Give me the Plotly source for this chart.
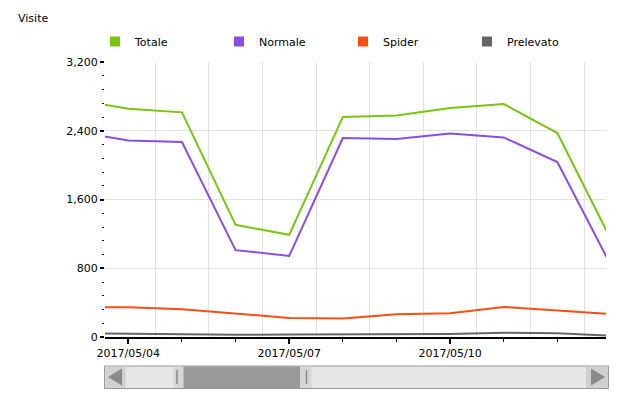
import plotly.graph_objects as go

# ---- data ----
dates = ["2017-05-03", "2017-05-04", "2017-05-05", "2017-05-06", "2017-05-07", "2017-05-08",
         "2017-05-09", "2017-05-10", "2017-05-11", "2017-05-12", "2017-05-13"]
totale = [2760, 2657, 2614, 1305, 1189, 2561, 2578, 2664, 2711, 2373, 1132]
normale = [2395, 2287, 2268, 1011, 944, 2315, 2303, 2369, 2322, 2035, 832]
spider = [350, 345, 324, 277, 222, 214, 265, 277, 350, 307, 268]
prelevato = [45, 40, 32, 25, 30, 32, 30, 35, 50, 45, 15]

series_names = ["Totale", "Normale", "Spider", "Prelevato"]
series_colors = ["#78c612", "#8a4de6", "#fb4f14", "#666666"]
series_values = [totale, normale, spider, prelevato]

x_tick_vals = ["2017-05-04", "2017-05-07", "2017-05-10"]
x_tick_text = ["2017/05/04", "2017/05/07", "2017/05/10"]
y_tick_vals = [0, 800, 1600, 2400, 3200]
x_range = ["2017-05-03 13:34", "2017-05-12 21:46"]

FONT = "DejaVu Sans"

# page offset (browser body margin) compensation
O = 8
FW, FH = 621 - O, 399 - O

# plot-area geometry in target-window pixels (for decorations)
L, R, T, B = 105, 606, 62, 337
W, H = R - L, B - T


def px(x):
    return (x - L) / W


def py(y):
    return (B - y) / H


fig = go.Figure()

# data lines (on the tick axis x2)
for name, color, vals in zip(series_names, series_colors, series_values):
    fig.add_trace(go.Scatter(x=dates, y=vals, name=name, mode="lines",
                             line=dict(color=color, width=2),
                             xaxis="x2", yaxis="y", showlegend=False))

# legend entries with square symbols
for name, color in zip(series_names, series_colors):
    fig.add_trace(go.Scatter(x=[None], y=[None], name=name, mode="markers",
                             marker=dict(symbol="square", size=10, color=color),
                             xaxis="x", yaxis="y", showlegend=True))

shapes = []
# scrollbar background
shapes.append(dict(type="rect", xref="paper", yref="paper",
                   x0=px(104.5), x1=px(608.5), y0=py(388.5), y1=py(366),
                   fillcolor="#e6e6e6", line=dict(color="#9a9a9a", width=1), layer="above"))
# buttons
for bx0, bx1 in [(105.5, 125.5), (586, 608)]:
    shapes.append(dict(type="rect", xref="paper", yref="paper",
                       x0=px(bx0), x1=px(bx1), y0=py(388), y1=py(366.5),
                       fillcolor="#d0d0d0", line=dict(width=0), layer="above"))
shapes.append(dict(type="path", xref="paper", yref="paper",
                   path=f"M {px(108)},{py(377)} L {px(122)},{py(368.5)} L {px(122)},{py(385.5)} Z",
                   fillcolor="#8a8a8a", line=dict(width=0), layer="above"))
shapes.append(dict(type="path", xref="paper", yref="paper",
                   path=f"M {px(605)},{py(377)} L {px(591)},{py(368.5)} L {px(591)},{py(385.5)} Z",
                   fillcolor="#8a8a8a", line=dict(width=0), layer="above"))
# thumb
for hx0, hx1, col in [(173.5, 183.5, "#d6d6d6"), (183.5, 300, "#999999"), (300, 311.5, "#d6d6d6")]:
    shapes.append(dict(type="rect", xref="paper", yref="paper",
                       x0=px(hx0), x1=px(hx1), y0=py(388), y1=py(366.5),
                       fillcolor=col, line=dict(width=0), layer="above"))
for lx in (177, 306.5):
    shapes.append(dict(type="line", xref="paper", yref="paper",
                       x0=px(lx), x1=px(lx), y0=py(370), y1=py(384),
                       line=dict(color="#888888", width=1.5), layer="above"))

fig.update_layout(
    width=FW, height=FH,
    margin=dict(l=L - O, r=621 - R, t=T - O, b=399 - B, pad=0),
    paper_bgcolor="white", plot_bgcolor="white",
    font=dict(family=FONT, size=11, color="#000000"),
    title=dict(text="Visite", x=(18 - O) / FW, xanchor="left", xref="container",
               y=1 - (18 - O) / FH, yanchor="middle", yref="container",
               font=dict(family=FONT, size=11, color="#000000")),
    showlegend=True,
    legend=dict(orientation="h", x=px(95), xanchor="left", y=py(41.5), yanchor="middle",
                entrywidth=79, entrywidthmode="pixels",
                font=dict(family=FONT, size=11, color="#000000"),
                bgcolor="rgba(0,0,0,0)", itemclick=False),
    xaxis=dict(type="date", range=x_range, showticklabels=False, ticks="",
               showgrid=True, gridcolor="#e2e2e2", gridwidth=1,
               tick0="2017-05-03 12:00", dtick=86400000, showline=False),
    xaxis2=dict(type="date", range=x_range, overlaying="x", anchor="y", side="bottom",
                showgrid=False, showline=True, linecolor="#000000", linewidth=2,
                tickmode="array", tickvals=x_tick_vals, ticktext=x_tick_text,
                ticks="outside", ticklen=5, tickwidth=2, tickcolor="#000000",
                minor=dict(ticks="outside", ticklen=3, tickwidth=1, tickcolor="#000000",
                           dtick=86400000, tick0="2017-05-04", showgrid=False),
                tickfont=dict(family=FONT, size=11, color="#000000")),
    yaxis=dict(range=[0, 3200], tickmode="array", tickvals=y_tick_vals, tickformat=",",
               ticks="outside", ticklen=4, tickwidth=2, tickcolor="#000000",
               minor=dict(ticks="outside", ticklen=2, tickwidth=1, tickcolor="#000000",
                          dtick=160, tick0=0, showgrid=False),
               showgrid=True, gridcolor="#e2e2e2", gridwidth=1, zeroline=False, showline=False,
               tickfont=dict(family=FONT, size=11, color="#000000")),
    shapes=shapes,
)

fig.write_html("out.html")
